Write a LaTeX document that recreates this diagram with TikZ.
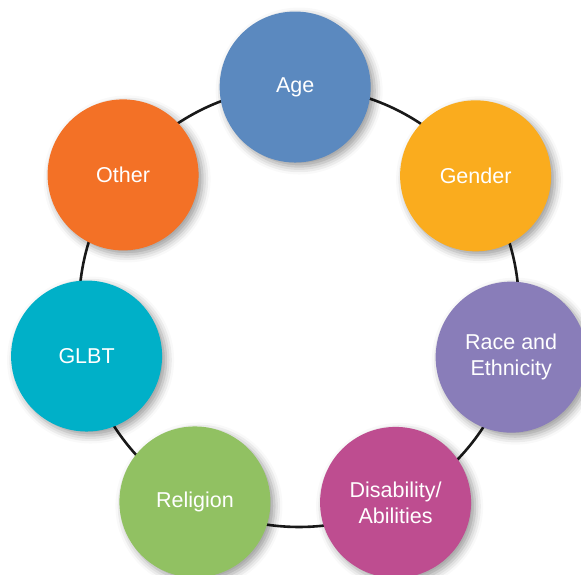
\documentclass[tikz,border=0pt]{standalone}
\usepackage{fontspec}
\setmainfont{Liberation Sans}
\usetikzlibrary{backgrounds,shadows.blur}
\definecolor{agecol}{RGB}{91,137,191}
\definecolor{gendercol}{RGB}{250,172,30}
\definecolor{racecol}{RGB}{137,125,185}
\definecolor{abilitycol}{RGB}{190,77,144}
\definecolor{religioncol}{RGB}{145,193,98}
\definecolor{glbtcol}{RGB}{0,176,200}
\definecolor{othercol}{RGB}{243,113,38}
\begin{document}
\begin{tikzpicture}[x=1pt,y=1pt,
  bubble/.style={circle, minimum size=151pt, inner sep=0pt, text=white, align=center,
    font=\fontsize{21.5}{26}\selectfont,
    blur shadow={shadow xshift=4pt, shadow yshift=-4pt, shadow blur radius=8pt, shadow opacity=40}}]
  \useasboundingbox (0,0) rectangle (581,575);
  \clip (0,0) rectangle (581,575);
  \coordinate (hub) at (299,268);
  % the seven circles round the ring
  \node[bubble, fill=agecol]      (age)      at ([shift={(91:220)}]hub)    {Age};
  \node[bubble, fill=gendercol]   (gender)   at ([shift={(36.6:220)}]hub)  {Gender};
  \node[bubble, fill=racecol]     (race)     at ([shift={(-13.3:218)}]hub) {Race and\\Ethnicity};
  \node[bubble, fill=abilitycol]  (ability)  at ([shift={(-63.7:218)}]hub) {Disability/\\Abilities};
  \node[bubble, fill=religioncol] (religion) at ([shift={(-118.1:221)}]hub) {Religion};
  \node[bubble, fill=glbtcol]     (glbt)     at ([shift={(-167:218)}]hub)  {GLBT};
  \node[bubble, fill=othercol]    (other)    at ([shift={(143.1:220)}]hub) {Other};
  \begin{scope}[on background layer]
    \draw[line width=2.6pt, black!90] (hub) circle (220);
  \end{scope}
\end{tikzpicture}
\end{document}
